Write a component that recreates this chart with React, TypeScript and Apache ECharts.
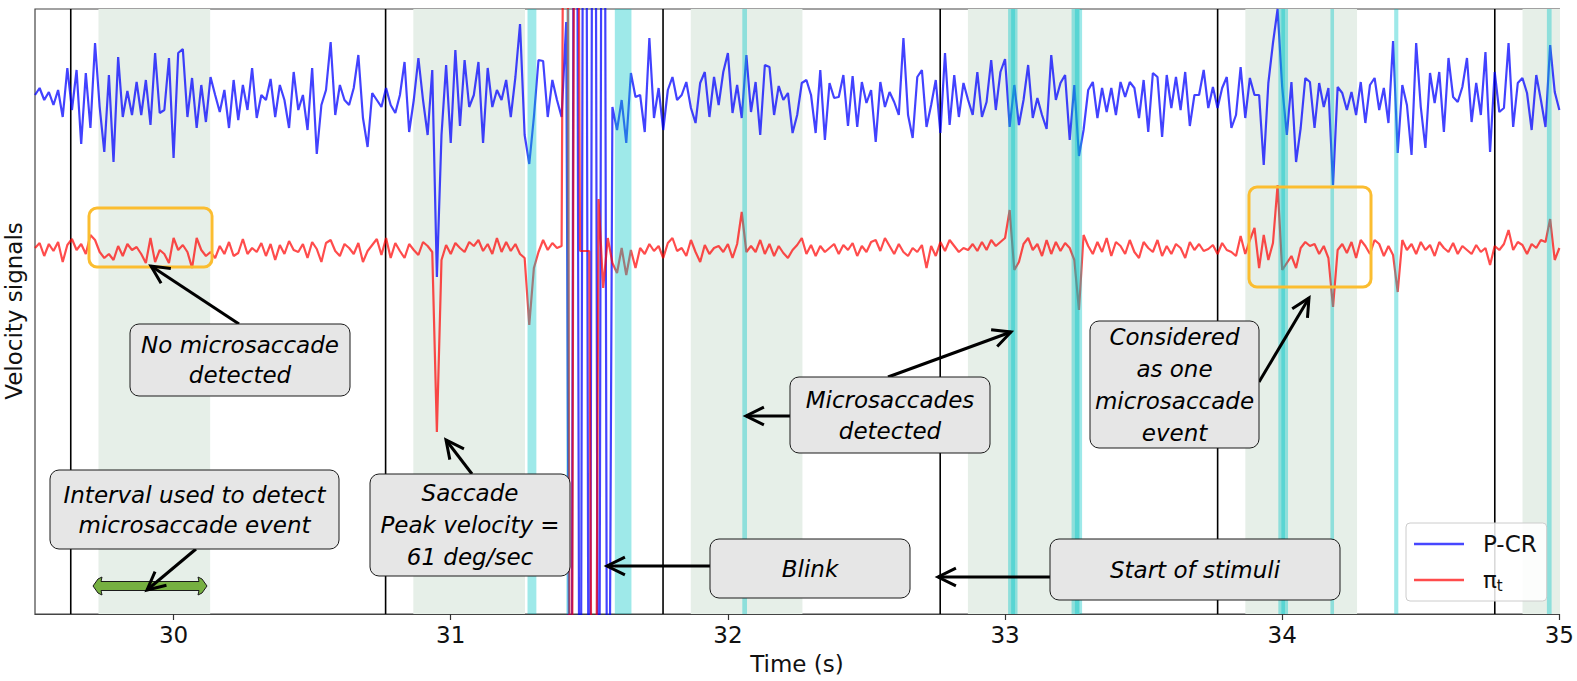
import React, { useEffect, useRef } from 'react';
import * as echarts from 'echarts';

// ---- sampling / axes ----
const T_START = 29.5;
const SAMPLE_RATE = 60; // Hz
const X_MIN = 29.5;
const X_MAX = 35;
const Y_MIN = 0;
const Y_MAX = 605;
const PCR_OFFSET = 517;
const PIT_OFFSET = 366;
const xTicks = [30, 31, 32, 33, 34, 35];

// ---- events ----
const stimulusOnsets = [29.629, 30.765, 31.766, 32.766, 33.767, 34.767];
const detectionIntervals = [
  [29.729, 30.132], [30.865, 31.268], [31.866, 32.269],
  [32.866, 33.269], [33.867, 34.27], [34.867, 35.27],
];
const detectedEvents = [
  [31.277, 31.309], [31.417, 31.429], [31.592, 31.652], [32.052, 32.069],
  [33.011, 33.045], [33.022, 33.036], [33.24, 33.278], [33.252, 33.268],
  [33.986, 34.021], [33.997, 34.01], [34.174, 34.187], [34.404, 34.419],
  [34.955, 34.972],
];

// ---- signals (60 Hz samples from 29.5 s; +-1000 = off-scale during blink) ----
const pcr = [
  2, 9, -3, 5, -8, 7, -20, 29, -13, 27,
  -47, 24, -31, 54, -10, -55, 22, -65, 40, -20,
  6, -18, 15, -18, 17, -28, 44, -16, -13, 39,
  -61, 44, 48, -20, 19, -31, 12, -25, 20, 2,
  -15, 7, -31, 17, -23, 12, -13, 29, -21, 2,
  -3, 18, -20, 12, -3, -31, 25, -13, 2, -33,
  29, -57, -8, 7, 55, -18, 12, -3, -8, 9,
  42, -21, -50, 4, -3, -10, 9, -8, -16, 2,
  35, -35, -3, 39, -3, -38, 27, -180, -38, 32,
  -46, 47, -29, 37, -10, 2, 35, -46, 29, -10,
  7, -3, 17, -20, 20, 73, -38, -67, -20, 37,
  36, -20, 17, -3, -20, 75, -1000, 1000, -1000, 1000,
  -1000, 1000, -1000, 1000, -1000, -10, -33, -3, -46, 24,
  0, 2, -35, 59, -21, 9, -33, 7, 20, -3,
  2, 15, -11, -26, 14, 25, -20, 20, -8, 25,
  44, -16, 12, -21, 42, -15, 15, -38, 32, 30,
  -18, 11, -3, 4, -36, -18, 14, 17, 2, -36,
  27, -43, 14, -1, 0, 22, -29, 21, -30, 15,
  -6, 7, -45, 15, -10, 5, -5, -18, 59, -18,
  -41, 20, 27, -30, -8, 17, -36, 44, -28, 22,
  -20, 14, -3, -18, 25, -20, -5, 37, -13, 25,
  38, -30, 12, -28, -3, 32, -21, -1, -18, -32,
  42, -3, 14, 22, -43, 12, -59, -33, 7, 15,
  -21, 9, -15, 9, -18, 15, 0, 15, 9, -21,
  17, -35, 24, 20, -40, 22, -11, 20, -13, 25,
  -29, 2, 2, 27, -11, 10, -11, 9, 20, -31,
  -18, 30, -21, 19, 2, 2, -68, 14, 54, 88,
  10, -38, 15, -65, -31, 19, 15, -31, 14, -10,
  9, -88, 10, 4, -13, 5, -18, 15, -26, 12,
  19, -13, 9, -26, 56, -56, 12, -8, -58, 54,
  -10, -51, 24, -6, 25, -35, 39, 0, -5, 10,
  39, -25, 14, -18, 45, -55, 25, -15, -11, 54,
  -30, 14, 19, 4, -33, 22, -3, -30, 52, 5,
  -13,
];
const pit = [
  0, 5, -8, 4, -3, 6, -14, 3, 9, -2,
  4, -6, 13, 8, -4, -10, -6, -12, 2, -8,
  4, -2, 1, -6, -15, 10, -14, -2, -6, -15,
  10, -2, 3, -4, -20, 10, -2, -8, -4, -10,
  2, -6, 6, -8, -5, 9, -6, 0, -4, 5,
  -8, 4, -12, 3, -6, 7, -2, -4, 4, -10,
  6, -1, -14, 5, 8, -3, -8, 4, 0, -6,
  5, -14, -3, 3, 9, -7, 10, -10, 5, -3,
  -10, 4, -2, -7, 6, 2, -4, -184, -12, 3,
  -6, 5, 0, -4, 6, 2, 8, -3, 4, -6,
  10, -4, 6, -3, 4, -6, -10, -77, -20, -4,
  8, -2, 5, 0, 2, 1000, -1000, 1000, -3, -3,
  -3, -1000, 49, -40, 10, -15, -25, 0, -27, -2,
  -20, 0, -6, 4, -3, 2, -10, 5, 10, -3,
  0, -8, 8, -4, -14, 3, -6, 0, 2, -4,
  4, -10, 4, 36, -4, 2, -4, 8, -6, 4,
  -8, 2, -5, -10, -2, 3, 10, -6, 3, -8,
  2, -4, 0, 4, -6, 3, -2, 5, -8, 2,
  -4, 6, 8, -3, 10, 2, -6, 4, -4, -8,
  0, -4, 3, -20, 2, -8, 6, -3, 8, 2,
  -4, 0, -2, 4, -3, 6, -2, 8, 2, 6,
  10, 38, -22, -14, 4, 10, -2, 4, -8, 8,
  -6, 6, -3, 5, 0, -12, -62, 13, 2, -6,
  6, -4, 10, -8, 6, 2, -6, 8, -4, -10,
  6, 0, -4, 8, -8, 2, -6, 4, 0, -10,
  6, -2, 4, -3, -1, 3, -6, 5, -2, -4,
  -8, 12, -6, 8, 20, -20, 13, -12, 5, 63,
  -22, -15, -8, -20, 0, 6, 2, 4, -6, 2,
  -10, -59, -2, 4, -5, 6, -10, 8, 2, -6,
  8, 4, -8, 2, -7, -44, 8, -2, 4, -6,
  6, -2, 3, -8, 6, 0, -4, 5, -6, 2,
  -2, -6, 3, -4, 0, -17, 2, -2, 4, 18,
  -2, 6, 3, -6, 4, 0, 8, 6, 29, -12,
  0,
];

const FONT = '"DejaVu Sans", Verdana, sans-serif';

function arrow(x1: number, y1: number, x2: number, y2: number) {
  const ang = Math.atan2(y1 - y2, x1 - x2);
  const L = 20;
  const a = 0.46;
  const p1 = [x2 + L * Math.cos(ang + a), y2 + L * Math.sin(ang + a)];
  const p2 = [x2 + L * Math.cos(ang - a), y2 + L * Math.sin(ang - a)];
  return [
    { type: 'line', z: 100, shape: { x1, y1, x2, y2 }, style: { stroke: '#000', lineWidth: 3 } },
    { type: 'polyline', z: 100, shape: { points: [p1, [x2, y2], p2] }, style: { stroke: '#000', lineWidth: 3, fill: 'none' } },
  ];
}

function box(x: number, y: number, w: number, h: number, text: string, lh: number) {
  return [
    { type: 'rect', z: 101, shape: { x, y, width: w, height: h, r: 9 }, style: { fill: '#e6e6e6', stroke: '#1a1a1a', lineWidth: 1 } },
    {
      type: 'text', z: 102, x: x + w / 2, y: y + h / 2,
      style: { text, fontSize: 23, fontStyle: 'italic', fontFamily: FONT, fill: '#000', align: 'center', verticalAlign: 'middle', lineHeight: lh },
    },
  ];
}

export default function App() {
  const ref = useRef<HTMLDivElement>(null);
  useEffect(() => {
    const chart = echarts.init(ref.current!, null, { renderer: 'svg' });
    const toSeries = (vals: number[], offset: number) =>
      vals.map((v, i) => [T_START + i / SAMPLE_RATE, offset + v]);

    const bandRender = (fill: string) => (params: any, api: any) => {
      const a = api.coord([api.value(0), Y_MAX]);
      const b = api.coord([api.value(1), Y_MIN]);
      return {
        type: 'rect',
        shape: { x: a[0], y: a[1], width: b[0] - a[0], height: b[1] - a[1] },
        style: { fill },
      };
    };

    const graphics: any[] = [
      ...arrow(239, 324, 151, 266),
      ...arrow(196, 549, 147, 590),
      ...arrow(472, 474, 446, 440),
      ...arrow(888, 377, 1011, 332),
      ...arrow(790, 416, 746, 416),
      ...arrow(1259, 382, 1309, 298),
      ...arrow(710, 566, 607, 566),
      ...arrow(1050, 577, 938, 577),
      ...box(130, 324, 220, 72, 'No microsaccade\ndetected', 30),
      ...box(50, 470, 289, 79, 'Interval used to detect\nmicrosaccade event', 30),
      ...box(370, 474, 200, 102, 'Saccade\nPeak velocity =\n61 deg/sec', 32),
      ...box(790, 377, 200, 76, 'Microsaccades\ndetected', 31),
      ...box(1090, 321, 169, 127, 'Considered\nas one\nmicrosaccade\nevent', 32),
      ...box(710, 539, 200, 59, 'Blink', 30),
      ...box(1050, 539, 290, 61, 'Start of stimuli', 30),
      { type: 'rect', z: 99, shape: { x: 89, y: 208, width: 123, height: 59, r: 8 }, style: { fill: 'none', stroke: '#fbbd30', lineWidth: 3 } },
      { type: 'rect', z: 99, shape: { x: 1249, y: 187, width: 122, height: 100, r: 8 }, style: { fill: 'none', stroke: '#fbbd30', lineWidth: 3 } },
      {
        type: 'polygon', z: 99,
        shape: {
          points: [
            [93, 586], [98, 579], [102, 577], [101, 581.5], [199, 581.5], [198, 577], [202, 579], [207, 586],
            [202, 593], [198, 595], [199, 590.5], [101, 590.5], [102, 595], [98, 593],
          ],
        },
        style: { fill: '#76b041', stroke: '#1a1a1a', lineWidth: 1 },
      },
      {
        type: 'text', z: 50, x: 797, y: 664,
        style: { text: 'Time (s)', fontSize: 23, fontFamily: FONT, fill: '#111', align: 'center', verticalAlign: 'middle' },
      },
      {
        type: 'text', z: 50, x: 14, y: 311, rotation: Math.PI / 2,
        style: { text: 'Velocity signals', fontSize: 23, fontFamily: FONT, fill: '#111', align: 'center', verticalAlign: 'middle' },
      },
    ];

    const option: any = {
      animation: false,
      backgroundColor: '#fff',
      grid: { left: 35, right: 17, top: 9, bottom: 67, show: true, borderColor: '#444', borderWidth: 1.2, backgroundColor: '#fff' },
      xAxis: {
        type: 'value', min: X_MIN, max: X_MAX,
        axisLine: { show: true, lineStyle: { color: '#444', width: 1.2 } },
        axisTick: { show: true, customValues: xTicks, length: 6, lineStyle: { color: '#333', width: 1.2 } },
        axisLabel: { customValues: xTicks, fontSize: 23, fontFamily: FONT, color: '#111', margin: 9 },
        splitLine: { show: false },
      },
      yAxis: {
        type: 'value', min: Y_MIN, max: Y_MAX,
        axisLine: { show: false }, axisTick: { show: false }, axisLabel: { show: false }, splitLine: { show: false },
      },
      legend: {
        data: [
          { name: 'P-CR', icon: 'rect', itemStyle: { color: 'rgba(0,0,255,0.72)' } },
          { name: 'πt', icon: 'rect', itemStyle: { color: 'rgba(255,0,0,0.7)' } },
        ],
        orient: 'vertical', left: 1406, top: 523,
        itemWidth: 50, itemHeight: 2.5, itemGap: 10,
        padding: [8, 10, 8, 8],
        backgroundColor: 'rgba(255,255,255,0.85)', borderColor: '#ccc', borderWidth: 1, borderRadius: 4,
        z: 20,
        formatter: (name: string) => (name === 'πt' ? '{p|π}{t|t}' : name),
        textStyle: {
          fontSize: 23, fontFamily: FONT, color: '#111', lineHeight: 26, padding: [0, 0, 0, 14],
          rich: {
            p: { fontSize: 23, fontFamily: FONT, color: '#111', lineHeight: 26 },
            t: { fontSize: 15, fontFamily: FONT, color: '#111', lineHeight: 22, verticalAlign: 'bottom' },
          },
        },
      },
      series: [
        {
          type: 'custom', name: 'intervals', z: 1, silent: true, clip: true,
          data: detectionIntervals.map(([s, e]) => [s, e, Y_MIN]),
          encode: { x: [0, 1], y: 2 },
          renderItem: bandRender('#e6efe8'),
        },
        {
          type: 'custom', name: 'stimuli', z: 2, silent: true, clip: true,
          data: stimulusOnsets.map((t) => [t, Y_MIN]),
          encode: { x: 0, y: 1 },
          renderItem: (params: any, api: any) => {
            const a = api.coord([api.value(0), Y_MIN]);
            const b = api.coord([api.value(0), Y_MAX]);
            return { type: 'line', shape: { x1: a[0], y1: a[1], x2: b[0], y2: b[1] }, style: { stroke: '#000', lineWidth: 1.6 } };
          },
        },
        {
          type: 'line', name: 'P-CR', z: 3, symbol: 'none', showSymbol: false, clip: true, silent: true,
          data: toSeries(pcr, PCR_OFFSET),
          color: '#0000ff',
          lineStyle: { color: '#0000ff', width: 2.2, opacity: 0.74 },
        },
        {
          type: 'line', name: 'πt', z: 4, symbol: 'none', showSymbol: false, clip: true, silent: true,
          data: toSeries(pit, PIT_OFFSET),
          color: '#ff0000',
          lineStyle: { color: '#ff0000', width: 2.2, opacity: 0.7 },
        },
        {
          type: 'custom', name: 'events', z: 5, silent: true, clip: true,
          data: detectedEvents.map(([s, e]) => [s, e, Y_MIN]),
          encode: { x: [0, 1], y: 2 },
          renderItem: bandRender('rgba(0,197,197,0.38)'),
        },
      ],
      graphic: { elements: graphics },
    };
    chart.setOption(option);
    return () => chart.dispose();
  }, []);
  return <div ref={ref} style={{ position: 'fixed', left: 0, top: 0, width: 1577, height: 681 }} />;
}
